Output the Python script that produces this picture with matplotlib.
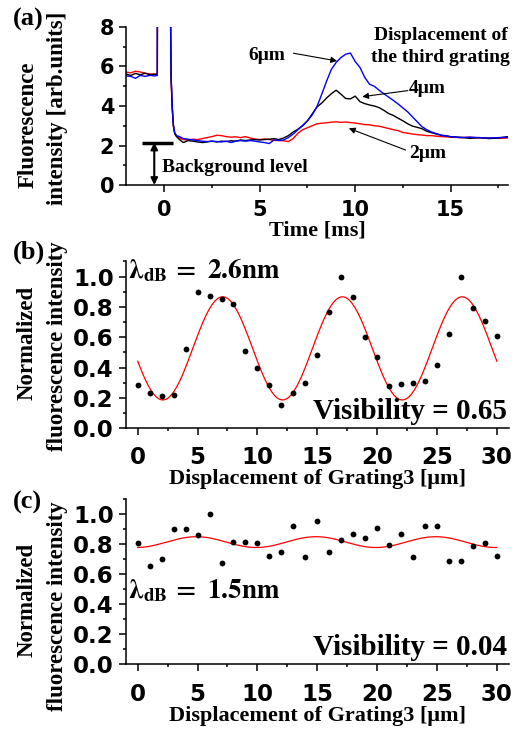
import numpy as np
import matplotlib
matplotlib.use('Agg')
import matplotlib.pyplot as plt
from matplotlib.ticker import MultipleLocator

plt.rcParams['font.family'] = 'Liberation Serif'
plt.rcParams['font.weight'] = 'bold'
plt.rcParams['axes.labelweight'] = 'bold'
plt.rcParams['mathtext.fontset'] = 'stix'
plt.rcParams['axes.linewidth'] = 1.1

# ---- (a) fluorescence traces ----
t_ms = [-2.0, -1.75, -1.5, -1.25, -1.0, -0.75, -0.5, -0.36, -0.35,
        0.30, 0.36, 0.42, 0.48, 0.55, 0.65, 0.8,
        1.0, 1.25, 1.5, 1.75, 2.0, 2.25, 2.5, 2.75, 3.0, 3.25, 3.5, 3.75,
        4.0, 4.25, 4.5, 4.75, 5.0, 5.25, 5.5, 5.75, 6.0, 6.25, 6.5, 6.75,
        7.0, 7.25, 7.5, 7.75, 8.0, 8.25, 8.5, 8.75, 9.0, 9.25, 9.5, 9.75,
        10.0, 10.25, 10.5, 10.75, 11.0, 11.25, 11.5, 11.75, 12.0, 12.25,
        12.5, 12.75, 13.0, 13.25, 13.5, 13.75, 14.0, 14.25, 14.5, 14.75,
        15.0, 15.5, 16.0, 16.5, 17.0, 17.5, 18.0]

red_2um = [5.72, 5.68, 5.76, 5.72, 5.66, 5.62, 5.62, 5.62, 12,
           12, 5.5, 3.9, 3.0, 2.6, 2.45, 2.38,
           2.30, 2.28, 2.32, 2.30, 2.35, 2.40, 2.45, 2.52, 2.50, 2.45, 2.42, 2.44,
           2.40, 2.45, 2.38, 2.33, 2.30, 2.33, 2.30, 2.26, 2.25, 2.24, 2.20, 2.35,
           2.62, 2.80, 2.90, 3.00, 3.10, 3.13, 3.15, 3.18, 3.20, 3.17, 3.19, 3.16,
           3.14, 3.10, 3.06, 3.05, 3.00, 2.98, 2.92, 2.86, 2.80, 2.75,
           2.66, 2.62, 2.58, 2.55, 2.53, 2.50, 2.50, 2.47, 2.45, 2.44,
           2.42, 2.40, 2.42, 2.38, 2.38, 2.36, 2.38]

black_4um = [5.62, 5.55, 5.65, 5.58, 5.66, 5.58, 5.60, 5.60, 12,
             12, 5.4, 3.9, 3.0, 2.6, 2.45, 2.30,
             2.15, 2.25, 2.22, 2.18, 2.15, 2.18, 2.22, 2.18, 2.22, 2.20, 2.24, 2.22,
             2.28, 2.25, 2.28, 2.30, 2.28, 2.30, 2.32, 2.35, 2.30, 2.38, 2.50, 2.68,
             2.82, 3.00, 3.25, 3.60, 3.95, 4.15, 4.40, 4.62, 4.80, 4.60, 4.38, 4.36,
             4.50, 4.22, 4.12, 4.05, 4.00, 3.92, 3.78, 3.62, 3.52, 3.38,
             3.25, 3.10, 2.98, 2.92, 2.85, 2.72, 2.65, 2.58, 2.52, 2.50,
             2.44, 2.42, 2.36, 2.40, 2.35, 2.38, 2.45]

blue_6um = [5.52, 5.50, 5.40, 5.55, 5.50, 5.55, 5.52, 5.55, 12,
            12, 5.6, 4.0, 3.05, 2.65, 2.50, 2.45,
            2.35, 2.32, 2.28, 2.25, 2.22, 2.20, 2.22, 2.20, 2.18, 2.22, 2.15, 2.22,
            2.25, 2.22, 2.25, 2.22, 2.18, 2.15, 2.10, 2.28, 2.26, 2.28, 2.40, 2.58,
            2.80, 3.02, 3.25, 3.55, 3.97, 4.60, 5.25, 5.85, 6.20, 6.45, 6.62, 6.68,
            6.25, 5.95, 5.45, 5.10, 5.00, 4.80, 4.62, 4.45, 4.28, 4.10,
            3.90, 3.70, 3.45, 3.20, 2.95, 2.80, 2.68, 2.60, 2.52, 2.48,
            2.45, 2.40, 2.42, 2.40, 2.38, 2.40, 2.42]

# ---- (b), (c) normalized intensity vs grating displacement ----
disp_um = [0, 1, 2, 3, 4, 5, 6, 7, 8, 9, 10, 11, 12, 13, 14, 15,
           16, 17, 18, 19, 20, 21, 22, 23, 24, 25, 26, 27, 28, 29, 30]
norm_b = [0.286, 0.235, 0.213, 0.218, 0.521, 0.897, 0.870, 0.853, 0.818, 0.512,
          0.398, 0.286, 0.152, 0.235, 0.299, 0.486, 0.767, 0.996, 0.866, 0.602,
          0.470, 0.281, 0.295, 0.297, 0.314, 0.418, 0.622, 1.0, 0.793, 0.705, 0.611]
norm_c = [0.804, 0.653, 0.702, 0.902, 0.902, 0.858, 1.0, 0.671, 0.816, 0.816,
          0.804, 0.720, 0.749, 0.920, 0.716, 0.953, 0.749, 0.827, 0.864, 0.842,
          0.904, 0.793, 0.864, 0.716, 0.922, 0.922, 0.689, 0.689, 0.789, 0.809, 0.722]

# sine fits: mean, amplitude, period, position of a maximum
fit_b = (0.527, 0.340, 10.0, 7.1)
fit_c = (0.8125, 0.036, 10.0, 4.9)

fig = plt.figure(figsize=(5.2, 7.31), dpi=100)

tick_font = 'DejaVu Sans'


def style(ax, size, xpad):
    ax.spines['top'].set_visible(False)
    ax.spines['right'].set_visible(False)
    ax.tick_params(which='both', direction='out', width=1.1,
                   labelsize=size, labelfontfamily=tick_font)
    ax.tick_params(which='major', length=5)
    ax.tick_params(which='minor', length=2.5)
    ax.tick_params(axis='x', pad=xpad)


def two_line_ylabel(ax, first, second, y_first, y_second):
    # first line drawn as separate text, second line is the real ylabel
    ax.set_ylabel(second, fontsize=16.5)
    ax.yaxis.set_label_coords(-0.152, y_second)
    ax.text(-0.257, y_first, first, transform=ax.transAxes, fontsize=16.5,
            rotation=90, ha='center', va='center')


# ---------------- (a) ----------------
ax = fig.add_axes([0.2423, 0.7469, 0.7346, 0.2162])
ax.plot(t_ms, red_2um, color='#ff0000', lw=1.0)
ax.plot(t_ms, black_4um, color='black', lw=1.0)
ax.plot(t_ms, blue_6um, color='#0000ff', lw=1.0)
ax.set_xlim(-2, 18)
ax.set_ylim(0, 8)
ax.xaxis.set_major_locator(MultipleLocator(5))
ax.xaxis.set_minor_locator(MultipleLocator(2.5))
ax.yaxis.set_major_locator(MultipleLocator(2))
ax.yaxis.set_minor_locator(MultipleLocator(1))
style(ax, 15, 6)
ax.set_xlabel('Time [ms]', fontsize=16, labelpad=0)
two_line_ylabel(ax, 'Fluorescence', 'intensity [arb.units]', 0.38, 0.487)

# background level marker
ax.plot([-1.17, 0.47], [2.15, 2.15], color='black', lw=2.5, solid_capstyle='butt')
ax.annotate('', xy=(-0.52, 0.0), xytext=(-0.52, 2.15),
            arrowprops=dict(arrowstyle='<|-|>', color='black', lw=1.5,
                            mutation_scale=10, shrinkA=0, shrinkB=0))
ax.text(-0.1, 0.91, 'Background level', fontsize=14, va='center', ha='left')

# labels for the curves
ax.text(4.4, 6.58, '6\u03bcm', fontsize=14, va='center', ha='left')
ax.annotate('', xy=(9.05, 6.28), xytext=(6.77, 6.67),
            arrowprops=dict(arrowstyle='-|>', color='black', lw=0.8,
                            mutation_scale=9, shrinkA=0, shrinkB=0))
ax.text(12.8, 4.9, '4\u03bcm', fontsize=14, va='center', ha='left')
ax.annotate('', xy=(10.37, 4.47), xytext=(12.76, 4.78),
            arrowprops=dict(arrowstyle='-|>', color='black', lw=0.8,
                            mutation_scale=9, shrinkA=0, shrinkB=0))
ax.text(12.8, 1.6, '2\u03bcm', fontsize=14, va='center', ha='left')
ax.annotate('', xy=(9.67, 2.87), xytext=(12.64, 1.77),
            arrowprops=dict(arrowstyle='-|>', color='black', lw=0.8,
                            mutation_scale=9, shrinkA=0, shrinkB=0))
ax.text(14.47, 7.0, 'Displacement of\nthe third grating', fontsize=14,
        ha='center', va='center', linespacing=1.35)

# ---------------- (b) and (c) ----------------
panels = [
    ([0.2418, 0.4141, 0.7367, 0.2282], norm_b, fit_b, '2.6nm', 0.99,
     'Visibility = 0.65', 0.51, 0.49, 8),
    ([0.2418, 0.0917, 0.7367, 0.2257], norm_c, fit_c, '1.5nm', 0.44,
     'Visibility = 0.04', 0.39, 0.35, 9),
]
for rect, vals, fit, lam, lam_y, vis, y1, y2, xpad in panels:
    ax = fig.add_axes(rect)
    mean, amp, period, peak = fit
    xf = np.linspace(0, 30, 301)
    ax.plot(xf, mean + amp * np.cos(2 * np.pi * (xf - peak) / period),
            color='#ff0000', lw=0.9)
    ax.plot(disp_um, vals, 'o', color='black', ms=4.2, mec='none')
    ax.set_xlim(-1, 31)
    ax.set_ylim(0, 1.1)
    ax.xaxis.set_major_locator(MultipleLocator(5))
    ax.xaxis.set_minor_locator(MultipleLocator(2.5))
    ax.yaxis.set_minor_locator(MultipleLocator(0.1))
    ax.set_yticks([0, 0.2, 0.4, 0.6, 0.8, 1.0])
    ax.set_yticklabels(['0.0', '0.2', '0.4', '0.6', '0.8', '1.0'])
    style(ax, 16.5, xpad)
    ax.set_xlabel('Displacement of Grating3 [\u03bcm]', fontsize=16, labelpad=0)
    two_line_ylabel(ax, 'Normalized', 'fluorescence intensity', y1, y2)
    ax.text(-0.85, lam_y,
            r'$\mathrm{\lambda}_{\mathbf{dB}}\mathbf{\,=\ ' + lam + '}$',
            fontsize=19.5, ha='left', va='baseline')
    ax.text(0.995, 0.055, vis, transform=ax.transAxes, fontsize=21,
            ha='right', va='baseline')

fig.text(0.025, 0.973, '(a)', fontsize=19, va='center', ha='left')
fig.text(0.025, 0.655, '(b)', fontsize=19, va='center', ha='left')
fig.text(0.025, 0.312, '(c)', fontsize=19, va='center', ha='left')

fig.savefig('out.png', dpi=100)
